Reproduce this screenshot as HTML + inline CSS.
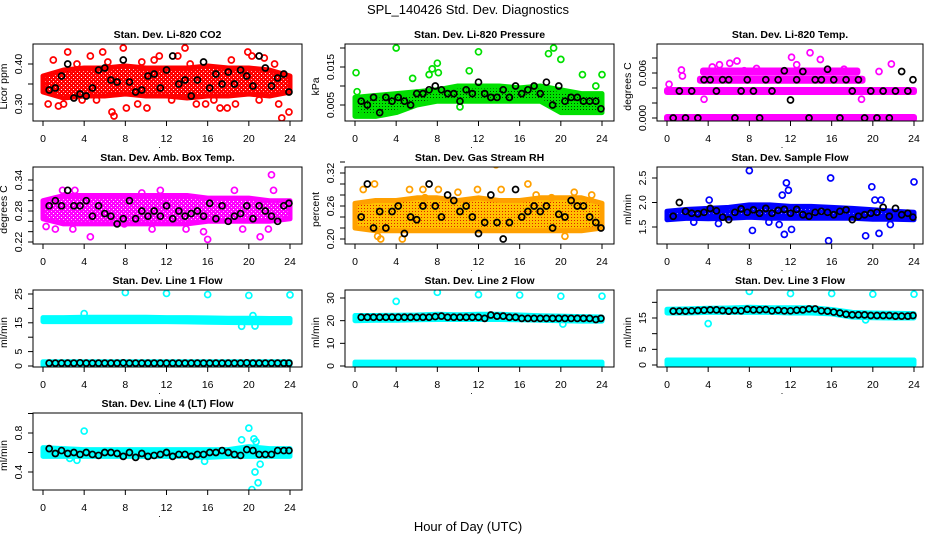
<!DOCTYPE html>
<html><head><meta charset="utf-8">
<style>
html,body{margin:0;padding:0;background:#fff}
svg{display:block;font-family:"Liberation Sans",sans-serif}
</style></head>
<body>
<svg id="c" width="936" height="540" viewBox="0 0 936 540">
<defs>
<pattern id="pGreen" width="3" height="3" patternUnits="userSpaceOnUse"><rect width="3" height="3" fill="#00e000"/><rect x="1" y="1" width="1" height="1" fill="#004000"/></pattern>
<pattern id="pRH" width="3" height="3" patternUnits="userSpaceOnUse"><rect width="3" height="3" fill="#ffc000"/><rect x="1" y="1" width="1" height="1" fill="#e02000"/></pattern>
<pattern id="pRed" width="4" height="4" patternUnits="userSpaceOnUse"><rect width="4" height="4" fill="#ff0000"/><rect x="1" y="1" width="1" height="1" fill="#fff"/><rect x="3" y="3" width="1" height="1" fill="#ffb0b0"/></pattern>
<pattern id="pMag" width="4" height="4" patternUnits="userSpaceOnUse"><rect width="4" height="4" fill="#ff00ff"/><rect x="1" y="1" width="1" height="1" fill="#fff"/><rect x="3" y="3" width="1" height="1" fill="#ffb0ff"/></pattern>
<pattern id="pBlue" width="4" height="4" patternUnits="userSpaceOnUse"><rect width="4" height="4" fill="#0000ff"/><rect x="1" y="1" width="1" height="1" fill="#8080ff"/></pattern>
</defs>
<text x="468" y="14" text-anchor="middle" font-size="13">SPL_140426  Std. Dev. Diagnostics</text>
<text x="468" y="531" text-anchor="middle" font-size="13">Hour of Day (UTC)</text>
</svg>
<script>
// shared hours
const blackHours=[0.6,1.2,1.8,2.4,3.0,3.6,4.2,4.8,5.4,6.0,6.6,7.2,7.8,8.4,9.0,9.6,10.2,10.8,11.4,12.0,12.6,13.2,13.8,14.4,15.0,15.6,16.2,16.8,17.4,18.0,18.6,19.2,19.8,20.4,21.0,21.6,22.2,22.8,23.4,23.9];
const bandHours=[0,2,4,6,8,10,12,14,16,18,20,22,24];
const xTicks=[0,4,8,12,16,20,24];

// Panel 1 CO2
const co2Black=[0.335,0.34,0.37,0.40,0.315,0.325,0.32,0.34,0.385,0.39,0.36,0.355,0.41,0.355,0.33,0.335,0.37,0.375,0.34,0.385,0.42,0.35,0.36,0.32,0.36,0.405,0.34,0.375,0.35,0.38,0.35,0.385,0.37,0.345,0.42,0.39,0.345,0.365,0.375,0.33];
const co2Lo=[0.33,0.315,0.32,0.32,0.325,0.32,0.32,0.315,0.32,0.32,0.325,0.32,0.33];
const co2Hi=[0.37,0.385,0.39,0.39,0.395,0.39,0.39,0.39,0.395,0.39,0.39,0.385,0.37];
const co2OutH=[0.5,1.5,2.4,3.8,4.6,5.8,6.7,6.9,7.8,8.1,9.2,10.1,10.8,11.3,13.8,14.9,15.8,17.2,17.9,18.7,19.9,20.3,21.5,23.2,23.9,22.9,13.1,2.0,1.0,3.3,5.2,9.6,12.5,14.3,16.6,18.3,21.0,22.5,0.2,6.3];
const co2OutV=[0.30,0.295,0.43,0.31,0.42,0.43,0.28,0.27,0.44,0.29,0.30,0.29,0.41,0.42,0.44,0.30,0.30,0.29,0.29,0.30,0.43,0.42,0.415,0.265,0.28,0.30,0.42,0.30,0.41,0.40,0.31,0.405,0.31,0.40,0.31,0.41,0.31,0.40,0.355,0.405];
// Panel 2 Pressure
const prBlack=[0.006,0.005,0.007,0.003,0.007,0.006,0.007,0.006,0.005,0.008,0.008,0.009,0.010,0.009,0.008,0.008,0.006,0.009,0.008,0.011,0.008,0.007,0.007,0.009,0.007,0.010,0.008,0.009,0.010,0.008,0.011,0.005,0.010,0.006,0.007,0.007,0.006,0.006,0.006,0.004];
const prLo=[0.002,0.002,0.003,0.005,0.006,0.006,0.006,0.006,0.006,0.006,0.003,0.003,0.003];
const prHi=[0.007,0.0075,0.008,0.0085,0.009,0.010,0.010,0.010,0.0095,0.010,0.009,0.008,0.008];
const prOutH=[0.1,0.2,4.0,7.2,7.5,8.0,8.1,11.1,12.0,18.8,19.3,20.0,22.1,23.4,24.0,5.6,2.2,10.2,0.3];
const prOutV=[0.0135,0.0085,0.020,0.013,0.0145,0.016,0.0135,0.014,0.019,0.0185,0.020,0.017,0.013,0.010,0.013,0.012,0.003,0.0045,0.003];
// Panel 3 Li-820 Temp
const tpBlack=[0,0.0036,0,0.0036,0,0.0051,0.0051,0.0036,0.0051,0.0051,0,0.0036,0.0051,0.0036,0,0.0051,0.0036,0.0051,0.0063,0.0024,0.0051,0.0062,0,0.0051,0.0051,0.0065,0.0051,0,0.0051,0.0036,0.0051,0,0.0036,0,0.0036,0,0.0036,0.0062,0.0036,0.0051];
const tpLevels=[0,0.0036,0.0051,0.0062];
const tpStart=[0,0,3.2,3.5];
const tpEnd=[24,24,19,18.5];
const tpOutH=[0.2,1.4,3.6,4.4,5.1,6.1,6.8,8.7,12.1,12.6,13.9,14.9,17.2,18.9,21.8,20.6,7.5,1.5];
const tpOutV=[0.0045,0.0064,0.0025,0.0068,0.0071,0.0073,0.0076,0.0066,0.0081,0.0071,0.0087,0.0078,0.0065,0.0025,0.0072,0.0062,0.0063,0.0056];
// Panel 4 Amb Box Temp
const abBlack=[0.29,0.30,0.29,0.32,0.29,0.29,0.30,0.27,0.29,0.275,0.27,0.255,0.265,0.30,0.265,0.28,0.27,0.28,0.27,0.29,0.265,0.28,0.27,0.275,0.28,0.27,0.295,0.265,0.29,0.26,0.27,0.275,0.29,0.265,0.29,0.28,0.27,0.26,0.29,0.295];
const abLo=[0.265,0.255,0.255,0.255,0.255,0.255,0.255,0.255,0.26,0.26,0.26,0.26,0.265];
const abHi=[0.30,0.31,0.31,0.31,0.31,0.31,0.31,0.31,0.305,0.305,0.305,0.30,0.30];
const abOutH=[1.2,2.9,4.6,7.9,9.6,10.6,11.4,15.6,16.0,18.6,21.1,22.2,22.4,11.6,1.9,3.1,13.9,19.4,21.9,0.3];
const abOutV=[0.245,0.245,0.23,0.255,0.315,0.245,0.32,0.24,0.225,0.32,0.23,0.35,0.32,0.30,0.32,0.32,0.245,0.245,0.245,0.25];
// Panel 5 Gas Stream RH
const rhBlack=[0.24,0.30,0.22,0.25,0.22,0.25,0.26,0.21,0.24,0.235,0.26,0.30,0.26,0.24,0.28,0.27,0.25,0.26,0.24,0.21,0.23,0.28,0.23,0.20,0.23,0.29,0.24,0.25,0.26,0.25,0.26,0.22,0.245,0.24,0.27,0.26,0.26,0.24,0.23,0.22];
const rhLo=[0.22,0.215,0.215,0.215,0.215,0.215,0.215,0.215,0.215,0.215,0.215,0.215,0.22];
const rhHi=[0.265,0.27,0.27,0.275,0.275,0.27,0.275,0.27,0.27,0.275,0.275,0.275,0.265];
const rhOutH=[0.8,1.9,2.5,4.6,5.3,6.6,8.1,10.0,11.9,13.7,14.2,16.8,17.6,19.1,20.4,21.3,23.0,2.2,6.8];
const rhOutV=[0.29,0.30,0.20,0.20,0.29,0.29,0.29,0.285,0.29,0.335,0.29,0.30,0.28,0.275,0.205,0.285,0.28,0.205,0.275];
// Panel 6 Sample Flow
const sfBlack=[1.72,2.0,1.82,1.78,1.77,1.8,1.88,1.83,1.7,1.65,1.8,1.87,1.8,1.85,1.78,1.88,1.78,1.84,1.86,1.78,1.86,1.75,1.72,1.8,1.82,1.8,1.75,1.82,1.85,1.65,1.72,1.75,1.78,1.8,1.9,1.72,1.88,1.75,1.78,1.7];
const sfLo=[1.65,1.68,1.67,1.68,1.7,1.68,1.68,1.68,1.68,1.68,1.66,1.66,1.65];
const sfHi=[1.82,1.86,1.88,1.9,1.95,1.95,1.92,1.92,1.9,1.88,1.85,1.82,1.8];
const sfOutH=[8.0,11.6,11.2,11.8,15.9,19.9,20.2,20.8,24.0,8.3,11.4,12.1,15.7,19.3,20.6,2.6,4.1,5.0,9.9,10.9,21.7];
const sfOutV=[2.65,2.4,2.15,2.25,2.5,2.32,2.05,2.05,2.42,1.43,1.35,1.45,1.22,1.32,1.37,1.6,2.05,1.57,1.6,1.55,1.55];
// Panel 7 Line 1 Flow
const l1Black=[1.0,1.0,1.0,1.0,1.0,1.1,1.0,1.0,1.0,1.0,1.0,1.0,1.1,1.0,1.0,1.0,1.0,1.0,1.0,1.0,1.0,1.0,1.0,1.0,1.0,1.0,1.0,1.0,1.0,1.0,1.0,1.0,1.1,1.0,1.0,1.0,1.0,1.0,1.0,1.0];
const l1Lo=[15.4,15.4,15.4,15.4,15.4,15.4,15.4,15.3,15.2,15.1,15.0,15.0,15.0];
const l1Hi=[16.8,16.8,16.9,16.9,16.9,16.9,16.8,16.8,16.7,16.6,16.6,16.5,16.5];
const l1Lo2=[0.3,0.3,0.3,0.3,0.3,0.3,0.3,0.3,0.3,0.3,0.3,0.3,0.3];
const l1Hi2=[1.5,1.5,1.5,1.5,1.5,1.5,1.5,1.5,1.5,1.5,1.5,1.5,1.5];
const l1OutH=[8.0,12.0,16.0,20.0,24.0,4.0,19.3,20.4,20.6];
const l1OutV=[25.5,25.2,24.8,24.5,24.7,18.2,13.8,17.5,13.9];
// Panel 8 Line 2 Flow
const l2Black=[21.5,21.5,21.5,21.5,21.5,21.5,21.5,21.5,21.5,21.5,21.5,21.5,21.8,22,21.5,21.5,21.5,21.5,21.5,21.5,21,22.5,22,22,21.5,21.5,21,21,21,21,21,21,21,21,21,21,21,21,20.5,21];
const l2Lo=[20,20.2,20.2,20.4,20.5,20.5,20.5,20.5,20.4,20.2,20,19.8,19.8];
const l2Hi=[22.3,22.3,22.4,22.5,22.8,22.6,22.8,22.8,22.5,22.2,22,21.8,21.6];
const l2Lo2=[0.1,0.1,0.1,0.1,0.1,0.1,0.1,0.1,0.1,0.1,0.1,0.1,0.1];
const l2Hi2=[1.7,1.7,1.7,1.7,1.7,1.7,1.7,1.7,1.7,1.7,1.7,1.7,1.7];
const l2OutH=[4.0,8.0,12.0,16.0,20.0,24.0,20.2];
const l2OutV=[28.5,32.5,31.5,31.3,30.8,30.8,18.5];
// Panel 9 Line 3 Flow
const l3Black=[17.2,17.2,17.2,17.3,17.4,17.5,17.6,17.6,17.4,17.2,17.4,17.3,17.8,17.6,17.6,17.7,17.3,17.5,17.3,17.3,17.5,17.6,17.9,17.9,17.3,17.2,16.9,16.6,16.2,16.0,16.0,16.0,15.8,15.8,15.8,15.8,15.6,15.6,15.6,15.8];
const l3Lo=[16.6,16.6,16.8,16.8,16.8,16.8,16.6,16.6,16.3,15.3,15.1,15.0,15.0];
const l3Hi=[17.8,17.9,18.1,18.2,18.4,18.3,18.3,18.3,17.7,16.8,16.6,16.5,16.4];
const l3Lo2=[0.1,0.1,0.1,0.1,0.1,0.1,0.1,0.1,0.1,0.1,0.1,0.1,0.1];
const l3Hi2=[1.6,1.6,1.6,1.6,1.6,1.6,1.6,1.6,1.6,1.6,1.6,1.6,1.6];
const l3OutH=[8.0,12.0,16.0,20.0,24.0,4.0,19.3];
const l3OutV=[23.5,22.8,22.8,22.6,22.6,13.2,14.4];
// Panel 10 Line 4 (LT) Flow
const l4Black=[0.64,0.59,0.62,0.59,0.6,0.58,0.6,0.58,0.57,0.6,0.6,0.59,0.56,0.6,0.55,0.59,0.56,0.57,0.58,0.6,0.56,0.58,0.58,0.56,0.58,0.58,0.6,0.6,0.62,0.6,0.58,0.57,0.63,0.62,0.58,0.58,0.58,0.62,0.62,0.62];
const l4Lo=[0.56,0.56,0.56,0.56,0.56,0.56,0.56,0.56,0.55,0.56,0.56,0.56,0.56];
const l4Hi=[0.65,0.64,0.63,0.63,0.63,0.63,0.63,0.63,0.63,0.63,0.66,0.64,0.64];
const l4OutH=[4.0,12.0,20.0,20.3,20.6,20.9,21.1,20.5,19.3,20.7,3.3,15.7,2.6];
const l4OutV=[0.82,1.04,0.85,0.22,0.4,0.29,0.48,0.74,0.73,0.71,0.52,0.51,0.54];

const NS='http://www.w3.org/2000/svg';
const svg=document.getElementById('c');
function mk(tag,attrs,parent){const e=document.createElementNS(NS,tag);for(const k in attrs)e.setAttribute(k,attrs[k]);(parent||svg).appendChild(e);return e;}

const colL=[33,345,657], colW=[269,269,266], colX0=[43,355,667], hourW=247/24;
const rowT=[44,167,290,413], rowH=77;

const panels=[
 {name:'co2',title:'Stan. Dev. Li-820 CO2',yt:'Licor ppm',c:0,r:0,cal:[0.30,104,0.40,64],ticks:[0.30,0.35,0.40],labs:['0.30','','0.40'],col:'#ff0000',fill:'url(#pRed)',black:co2Black,lo:co2Lo,hi:co2Hi,oh:co2OutH,ov:co2OutV},
 {name:'pressure',title:'Stan. Dev. Li-820 Pressure',yt:'kPa',c:1,r:0,cal:[0.005,105,0.015,67],ticks:[0.005,0.010,0.015,0.020],labs:['0.005','','0.015',''],col:'#00e000',fill:'url(#pGreen)',black:prBlack,lo:prLo,hi:prHi,oh:prOutH,ov:prOutV},
 {name:'li820-temp',title:'Stan. Dev. Li-820 Temp.',yt:'degrees C',c:2,r:0,cal:[0,118,0.006,73],ticks:[0,0.002,0.004,0.006,0.008],labs:['0.000','','','0.006',''],col:'#ff00ff',fill:'#ff00ff',black:tpBlack,levels:true,oh:tpOutH,ov:tpOutV},
 {name:'amb-box-temp',title:'Stan. Dev. Amb. Box Temp.',yt:'degrees C',c:0,r:1,cal:[0.22,242,0.34,180],ticks:[0.22,0.24,0.26,0.28,0.30,0.32,0.34],labs:['0.22','','','0.28','','','0.34'],col:'#ff00ff',fill:'url(#pMag)',black:abBlack,lo:abLo,hi:abHi,oh:abOutH,ov:abOutV},
 {name:'gas-stream-rh',title:'Stan. Dev. Gas Stream RH',yt:'percent',c:1,r:1,cal:[0.20,239,0.32,173],ticks:[0.20,0.22,0.24,0.26,0.28,0.30,0.32,0.34],labs:['0.20','','','0.26','','','0.32',''],col:'#ffa000',fill:'url(#pRH)',black:rhBlack,lo:rhLo,hi:rhHi,oh:rhOutH,ov:rhOutV},
 {name:'sample-flow',title:'Stan. Dev. Sample Flow',yt:'ml/min',c:2,r:1,cal:[1.5,227,2.5,178],ticks:[1.5,2.0,2.5],labs:['1.5','2.0','2.5'],col:'#0000ff',fill:'url(#pBlue)',black:sfBlack,lo:sfLo,hi:sfHi,oh:sfOutH,ov:sfOutV},
 {name:'line1-flow',title:'Stan. Dev. Line 1 Flow',yt:'ml/min',c:0,r:2,cal:[0,366,25,294],ticks:[0,5,10,15,20,25],labs:['0','5','','15','','25'],col:'#00ffff',fill:'#00ffff',black:l1Black,lo:l1Lo,hi:l1Hi,lo2:l1Lo2,hi2:l1Hi2,oh:l1OutH,ov:l1OutV},
 {name:'line2-flow',title:'Stan. Dev. Line 2 Flow',yt:'ml/min',c:1,r:2,cal:[0,366,30,298],ticks:[0,10,20,30],labs:['0','10','20','30'],col:'#00ffff',fill:'#00ffff',black:l2Black,lo:l2Lo,hi:l2Hi,lo2:l2Lo2,hi2:l2Hi2,oh:l2OutH,ov:l2OutV},
 {name:'line3-flow',title:'Stan. Dev. Line 3 Flow',yt:'ml/min',c:2,r:2,cal:[0,365,15,318],ticks:[0,5,10,15,20],labs:['0','5','','15',''],col:'#00ffff',fill:'#00ffff',black:l3Black,lo:l3Lo,hi:l3Hi,lo2:l3Lo2,hi2:l3Hi2,oh:l3OutH,ov:l3OutV},
 {name:'line4-flow',title:'Stan. Dev. Line 4 (LT) Flow',yt:'ml/min',c:0,r:3,cal:[0.4,472,0.8,433],ticks:[0.4,0.6,0.8,1.0],labs:['0.4','','0.8',''],col:'#00ffff',fill:'#00ffff',black:l4Black,lo:l4Lo,hi:l4Hi,oh:l4OutH,ov:l4OutV}
];

panels.forEach(p=>{
 const L=colL[p.c],W=colW[p.c],T=rowT[p.r],B=T+rowH;
 const xs=h=>colX0[p.c]+h*hourW;
 const ys=v=>p.cal[1]+(v-p.cal[0])*(p.cal[3]-p.cal[1])/(p.cal[2]-p.cal[0]);
 const g=mk('g',{});
 
 
 const cid='clip-'+p.name;
 const cp=mk('clipPath',{id:cid},g);mk('rect',{x:L,y:T,width:W,height:rowH},cp);
 const t=mk('text',{x:L+W/2,y:T-6,'text-anchor':'middle','font-size':10.5,'font-weight':'bold'},g);t.textContent=p.title;
 
 
 const marks=mk('g',{'clip-path':'url(#'+cid+')'},g);
 function band(lo,hi,nm){
  let d='';bandHours.forEach((h,i)=>{d+=(i?'L':'M')+xs(h).toFixed(1)+','+ys(hi[i]).toFixed(1);});
  for(let i=bandHours.length-1;i>=0;i--)d+='L'+xs(bandHours[i]).toFixed(1)+','+ys(lo[i]).toFixed(1);
  const e=mk('path',{d:d+'Z',fill:p.fill,stroke:p.col,'stroke-width':5,'stroke-linejoin':'round'},marks);
  
  
 }
 if(p.levels){
  tpLevels.forEach((lv,i)=>{
   const e=mk('rect',{x:xs(tpStart[i])-3,y:ys(lv)-4,width:xs(tpEnd[i])-xs(tpStart[i])+6,height:8,rx:3,fill:p.col,stroke:'none'},marks);
   
   
  });
 } else {
  band(p.lo,p.hi,p.name+'-band');
  if(p.lo2)band(p.lo2,p.hi2,p.name+'-low-band');
 }
 p.oh.forEach((h,i)=>{
  const e=mk('circle',{cx:xs(h),cy:ys(p.ov[i]),r:3,fill:'none',stroke:p.col,'stroke-width':1.7},marks);
  
  
 });
 p.black.forEach((v,i)=>{
  const e=mk('circle',{cx:xs(blackHours[i]),cy:ys(v),r:3,fill:'none',stroke:'#000','stroke-width':1.7},marks);
  
  
 });
 const box=mk('rect',{x:L,y:T,width:W,height:rowH,fill:'none',stroke:'#000','stroke-width':1},g);
 
 
 xTicks.forEach(h=>{
  mk('line',{x1:xs(h),x2:xs(h),y1:B,y2:B+5,stroke:'#000'},g);
  const tl=mk('text',{x:xs(h),y:B+21,'text-anchor':'middle','font-size':10.5},g);tl.textContent=h;
  
  
 });
 const dot=mk('text',{x:L+W/2-8,y:B+27,'text-anchor':'middle','font-size':9},g);dot.textContent='.';
 p.ticks.forEach((v,i)=>{
  const y=ys(v);
  mk('line',{x1:L-5,x2:L,y1:y,y2:y,stroke:'#000'},g);
  if(p.labs[i]){
   const tl=mk('text',{x:L-11,y:y,'text-anchor':'middle','font-size':10.5,transform:'rotate(-90 '+(L-11)+' '+y+')'},g);tl.textContent=p.labs[i];
   
   
  }
 });
 const yc=T+rowH/2;
 const yt=mk('text',{x:L-26,y:yc+4,'text-anchor':'middle','font-size':10.5,transform:'rotate(-90 '+(L-26)+' '+(yc+4)+')'},g);yt.textContent=p.yt;
 
 
});
</script>
</body></html>
